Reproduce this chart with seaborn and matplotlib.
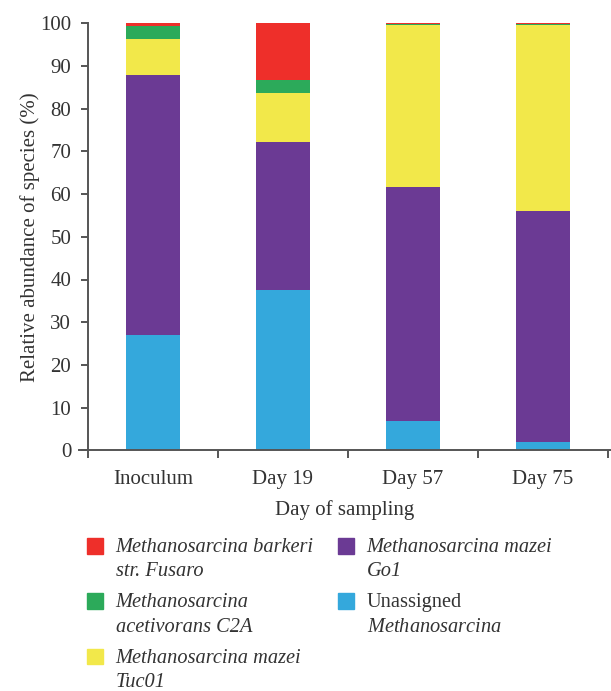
import numpy as np
import pandas as pd
import matplotlib
matplotlib.use('Agg')
import matplotlib.pyplot as plt
import seaborn as sns
from matplotlib.patches import Patch

samples = ['Inoculum', 'Day 19', 'Day 57', 'Day 75']
unassigned = [27.0, 37.5, 6.9, 2.0]
mazei_go1 = [60.9, 34.7, 54.7, 54.0]
mazei_tuc01 = [8.4, 11.5, 37.9, 43.5]
acetivorans_c2a = [3.1, 3.1, 0.3, 0.3]
barkeri_fusaro = [0.6, 13.2, 0.2, 0.2]

layers = [unassigned, mazei_go1, mazei_tuc01, acetivorans_c2a, barkeri_fusaro]
colors = ['#34a8dc', '#6b3a94', '#f2e84a', '#2caa5a', '#ee2f2a']

sns.set_style('ticks')
plt.rcParams['font.family'] = ['Liberation Serif', 'DejaVu Serif']
plt.rcParams['mathtext.fontset'] = 'custom'
plt.rcParams['mathtext.it'] = 'Liberation Serif:italic'
plt.rcParams['mathtext.rm'] = 'Liberation Serif'

txt = '#333333'
fs = 15
fig = plt.figure(figsize=(6.11, 6.91), dpi=100)
ax = fig.add_axes([79/611, 1-450.3/691, (611-79)/611, (450.3-23.3)/691])

# stacked bars: draw cumulative totals from top down
cum = np.cumsum(np.array(layers), axis=0)
for i in range(len(layers)-1, -1, -1):
    df = pd.DataFrame({'sample': samples, 'value': cum[i]})
    sns.barplot(x='sample', y='value', data=df, order=samples, color=colors[i],
                width=0.41, saturation=1, edgecolor='none', linewidth=0, ax=ax)

ax.set_xlim(-0.569, 3.523)
ax.set_ylim(0, 100)
ax.set_yticks(np.arange(0, 101, 10))
ax.spines['top'].set_visible(False)
ax.spines['right'].set_visible(False)
ax.spines['left'].set_position(('data', -0.5))
ax.spines['left'].set_bounds(0, 100)
for s in ['left', 'bottom']:
    ax.spines[s].set_color('#555555')
    ax.spines[s].set_linewidth(1.4)

ax.set_xticks([-0.5, 0.5, 1.5, 2.5, 3.5])
ax.set_xticklabels([])
ax.set_xticks(range(4), minor=True)
ax.set_xticklabels(samples, minor=True)
ax.tick_params(axis='x', which='major', length=6, width=1.4, color='#555555')
ax.tick_params(axis='x', which='minor', length=0, pad=14, labelsize=fs, labelcolor=txt)
ax.tick_params(axis='y', length=5, width=1.4, color='#555555', pad=7, labelsize=fs, labelcolor=txt)

ax.set_xlabel('Day of sampling', fontsize=fs, color=txt, labelpad=8)
ax.set_ylabel('Relative abundance of species (%)', fontsize=fs, color=txt, labelpad=0)

labels = ['Methanosarcina barkeri\nstr. Fusaro',
          'Methanosarcina\nacetivorans C2A',
          'Methanosarcina mazei\nTuc01',
          'Methanosarcina mazei\nGo1',
          'Unassigned\n$\\mathit{Methanosarcina}$']
handles = [Patch(color=c) for c in [colors[4], colors[3], colors[2], colors[1], colors[0]]]
leg = fig.legend(handles, labels, ncol=2, loc='upper left',
                 bbox_to_anchor=(87/611, 1-538/691), frameon=False, fontsize=14.7,
                 handlelength=0.8, handleheight=0.8, handletextpad=0.6,
                 columnspacing=1.2, labelspacing=0.6, borderpad=0, borderaxespad=0)
for t in leg.get_texts()[:4]:
    t.set_fontstyle('italic')
for t in leg.get_texts():
    t.set_color(txt)
    t.set_linespacing(1.37)
for col in leg._legend_handle_box.get_children():
    for item in col.get_children():
        item.align = 'top'

fig.savefig('out.png', dpi=100)
